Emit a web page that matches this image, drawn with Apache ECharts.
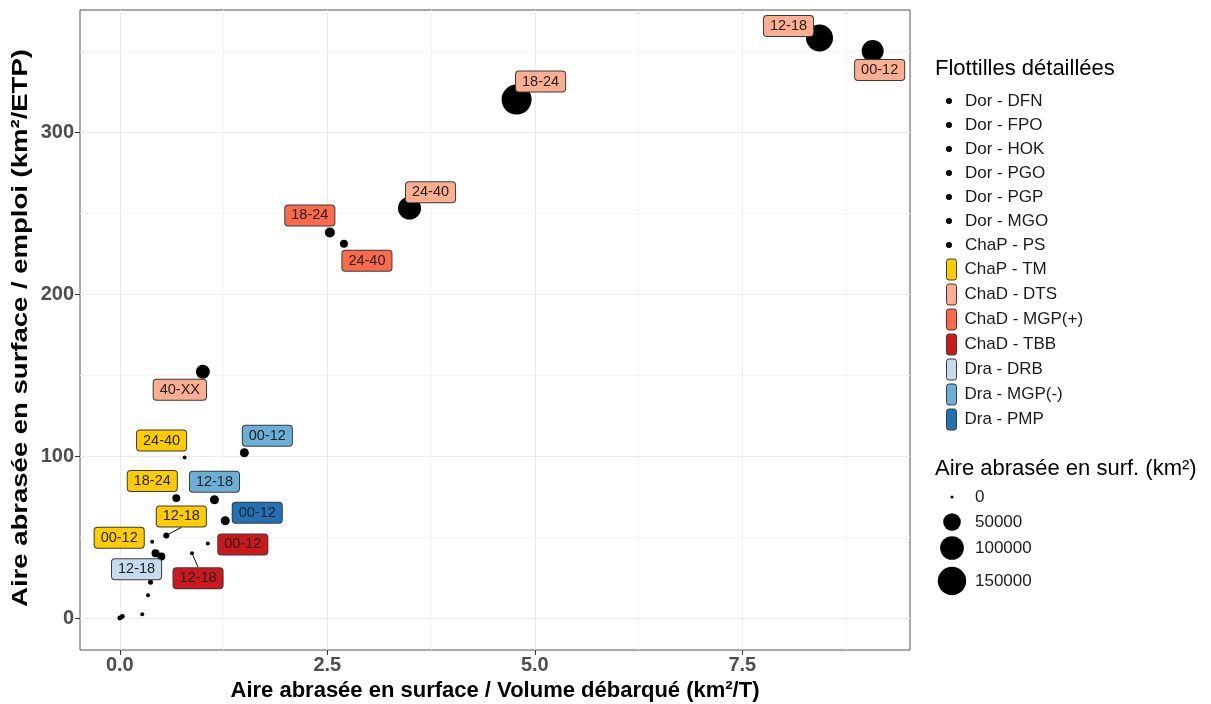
<!DOCTYPE html>
<html>
<head>
<meta charset="utf-8">
<script src="https://cdn.jsdelivr.net/npm/echarts@6/dist/echarts.min.js"></script>
<style>
html,body{margin:0;padding:0;background:#fff;}
#chart{width:1211px;height:704px;}
</style>
</head>
<body>
<div id="chart"></div>
<script>
// ---------- DATA ----------
// each point: [x (km²/T), y (km²/ETP), aire abrasée (km²), label]
const seriesNames = ['Dor - DFN','Dor - FPO','Dor - HOK','Dor - PGO','Dor - PGP','Dor - MGO','ChaP - PS',
  'ChaP - TM','ChaD - DTS','ChaD - MGP(+)','ChaD - TBB','Dra - DRB','Dra - MGP(-)','Dra - PMP'];
const dorDFN = [[0.43, 40, 5800, '']];
const dorFPO = [[0.50, 38, 5800, '']];
const dorHOK = [[0.34, 14, 230, '']];
const dorPGO = [[0.27, 2.3, 230, '']];
const dorPGP = [[0.00, 0.0, 900, '']];
const dorMGO = [[0.03, 1.0, 900, '']];
const chapPS = [[0.02, 0.5, 200, '']];
const chapTM = [[0.39, 47, 230, '00-12'], [0.56, 51, 2100, '12-18'], [0.68, 74, 5800, '18-24'], [0.78, 99, 230, '24-40']];
const chadDTS = [[9.07, 350, 84000, '00-12'], [8.43, 358, 134000, '12-18'], [4.78, 320, 170000, '18-24'], [3.49, 253, 93000, '24-40'], [1.00, 152, 28000, '40-XX']];
const chadMGPp = [[2.53, 238, 11400, '18-24'], [2.70, 231, 5800, '24-40']];
const chadTBB = [[1.06, 46, 230, '00-12'], [0.87, 40, 230, '12-18']];
const draDRB = [[0.37, 22, 930, '12-18']];
const draMGPm = [[1.50, 102, 8400, '00-12'], [1.14, 73, 8400, '12-18']];
const draPMP = [[1.27, 60, 8400, '00-12']];

const xTicks = [0, 2.5, 5, 7.5];
const xTickLabels = ['0.0', '2.5', '5.0', '7.5'];
const xGrid = [0, 1.25, 2.5, 3.75, 5, 6.25, 7.5, 8.75];
const yTicks = [0, 100, 200, 300];
const yGrid = [0, 50, 100, 150, 200, 250, 300, 350];
const sizeBreaks = [0, 50000, 100000, 150000];
const sizeLabels = ['0', '50000', '100000', '150000'];

// ---------- STYLE / LAYOUT ----------
const seriesData = [dorDFN, dorFPO, dorHOK, dorPGO, dorPGP, dorMGO, chapPS, chapTM, chadDTS, chadMGPp, chadTBB, draDRB, draMGPm, draPMP];
const fills = [null, null, null, null, null, null, null, '#FFCC00', '#FCAE91', '#FB6A4A', '#CB181D', '#C6DBEF', '#6BAED6', '#2171B5'];
// label offsets in pixels from the point centre (repel-like placement)
const labelOffsets = [[], [], [], [], [], [], [],
  [[-33, -4], [15, -19], [-24, -17], [-23, -17]],
  [[7, 19], [-31, -12], [24, -18], [21, -16], [-23, 18]],
  [[-20, -17], [23, 17]],
  [[35, 1], [6, 25]],
  [[-14, -13]],
  [[23, -17], [0, -18]],
  [[32, -8]]];
const withSegment = {'7-1': true, '10-1': true};

const FONT = '"Liberation Sans", Arial, sans-serif';
const sizeFn = v => 3 + 27 * Math.sqrt(v / 170000);

const chart = echarts.init(document.getElementById('chart'), null, {renderer: 'canvas'});

const series = seriesData.map((arr, si) => ({
  name: seriesNames[si],
  type: 'scatter',
  xAxisIndex: 0,
  yAxisIndex: 0,
  symbol: 'circle',
  symbolSize: v => sizeFn(v[2]),
  itemStyle: {color: '#000', opacity: 1},
  emphasis: {disabled: true},
  z: 3,
  data: arr.map((p, di) => {
    const item = {value: p};
    if (fills[si]) {
      item.label = {
        show: true,
        position: 'inside',
        formatter: p[3],
        backgroundColor: fills[si],
        borderColor: '#3a3a3a',
        borderWidth: 1,
        borderRadius: 3,
        padding: [3, 6, 2, 6],
        color: '#222',
        fontSize: 14.5,
        fontFamily: FONT
      };
      if (withSegment[si + '-' + di]) {
        item.labelLine = {show: true, lineStyle: {color: '#000', width: 1}};
      }
    }
    return item;
  }),
  labelLayout: fills[si] ? function (params) {
    const o = labelOffsets[si][params.dataIndex] || [0, 0];
    return {dx: o[0], dy: o[1]};
  } : undefined,
  labelLine: {show: false, length2: 0}
}));

const legendTextStyle1 = {fontSize: 17, color: '#1a1a1a', fontFamily: FONT, lineHeight: 20, padding: [0, 0, 0, 6]};
const legendTextStyle2 = {fontSize: 17, color: '#1a1a1a', fontFamily: FONT, lineHeight: 20, padding: [0, 0, 0, 3]};

const option = {
  animation: false,
  backgroundColor: '#fff',
  grid: {left: 80, right: 301, top: 10, bottom: 54, show: true, borderColor: '#555', borderWidth: 1, backgroundColor: '#fff', z: 0,
    containLabel: false, outerBoundsMode: 'none'},
  title: [
    {text: 'Flottilles détaillées', left: 935, top: 58, padding: 0, textStyle: {fontSize: 22, fontWeight: 'normal', color: '#000', fontFamily: FONT}},
    {text: 'Aire abrasée en surf. (km²)', left: 935, top: 458, padding: 0, textStyle: {fontSize: 22, fontWeight: 'normal', color: '#000', fontFamily: FONT}}
  ],
  legend: [
    {
      orient: 'vertical', left: 941, top: 86, itemWidth: 10, itemHeight: 6, itemGap: 4,
      selectedMode: false, icon: 'circle', textStyle: legendTextStyle1,
      data: seriesNames.slice(0, 7)
    },
    {
      orient: 'vertical', left: 941, top: 253.5, itemWidth: 10, itemHeight: 21, itemGap: 3,
      selectedMode: false, icon: 'roundRect', textStyle: legendTextStyle2,
      data: seriesNames.slice(7).map((n, i) => ({name: n, itemStyle: {color: fills[7 + i], borderColor: '#3a3a3a', borderWidth: 1}}))
    }
  ],
  xAxis: [
    {
      type: 'value', min: -0.48, max: 9.52,
      axisLine: {show: false, onZero: false}, axisLabel: {show: false},
      axisTick: {show: false, customValues: xGrid},
      splitLine: {show: true, lineStyle: {color: ['#EBEBEB', '#F5F5F5'], width: 1}}
    },
    {
      type: 'value', min: -0.48, max: 9.52, position: 'bottom',
      axisLine: {show: false, onZero: false},
      axisTick: {show: true, length: 5, customValues: xTicks, lineStyle: {color: '#333'}},
      axisLabel: {show: true, customValues: xTicks, margin: 5, fontSize: 20, fontWeight: 'bold', color: '#4D4D4D', fontFamily: FONT,
        formatter: v => xTickLabels[xTicks.indexOf(v)] ?? ''},
      splitLine: {show: false},
      name: 'Aire abrasée en surface / Volume débarqué (km²/T)', nameLocation: 'middle', nameGap: 29,
      nameTextStyle: {fontSize: 22, fontWeight: 'bold', color: '#000', fontFamily: FONT}
    }
  ],
  yAxis: [
    {
      type: 'value', min: -19.75, max: 375.3,
      axisLine: {show: false, onZero: false}, axisLabel: {show: false},
      axisTick: {show: false, customValues: yGrid},
      splitLine: {show: true, lineStyle: {color: ['#EBEBEB', '#F5F5F5'], width: 1}}
    },
    {
      type: 'value', min: -19.75, max: 375.3, position: 'left',
      axisLine: {show: false, onZero: false},
      axisTick: {show: true, length: 5, customValues: yTicks, lineStyle: {color: '#333'}},
      axisLabel: {show: true, customValues: yTicks, margin: 6, fontSize: 20, fontWeight: 'bold', color: '#4D4D4D', fontFamily: FONT},
      splitLine: {show: false}
    }
  ],
  graphic: [
    {type: 'text', x: 21, y: 328, rotation: Math.PI / 2, scaleX: 1.25, scaleY: 1,
      style: {text: 'Aire abrasée en surface / emploi (km²/ETP)', fill: '#000', font: 'bold 22px ' + FONT, align: 'center', verticalAlign: 'middle'},
      silent: true}
  ],
  series: series
};

// size legend
const sizeKeyY = [497, 522, 548, 581];
sizeBreaks.forEach((b, i) => {
  option.graphic.push({type: 'circle', shape: {cx: 952, cy: sizeKeyY[i], r: sizeFn(b) / 2}, style: {fill: '#000'}, silent: true});
  option.graphic.push({type: 'text', x: 975, y: sizeKeyY[i], style: {text: sizeLabels[i], fill: '#1a1a1a', font: '17px ' + FONT, verticalAlign: 'middle'}, silent: true});
});

chart.setOption(option);
</script>
</body>
</html>
